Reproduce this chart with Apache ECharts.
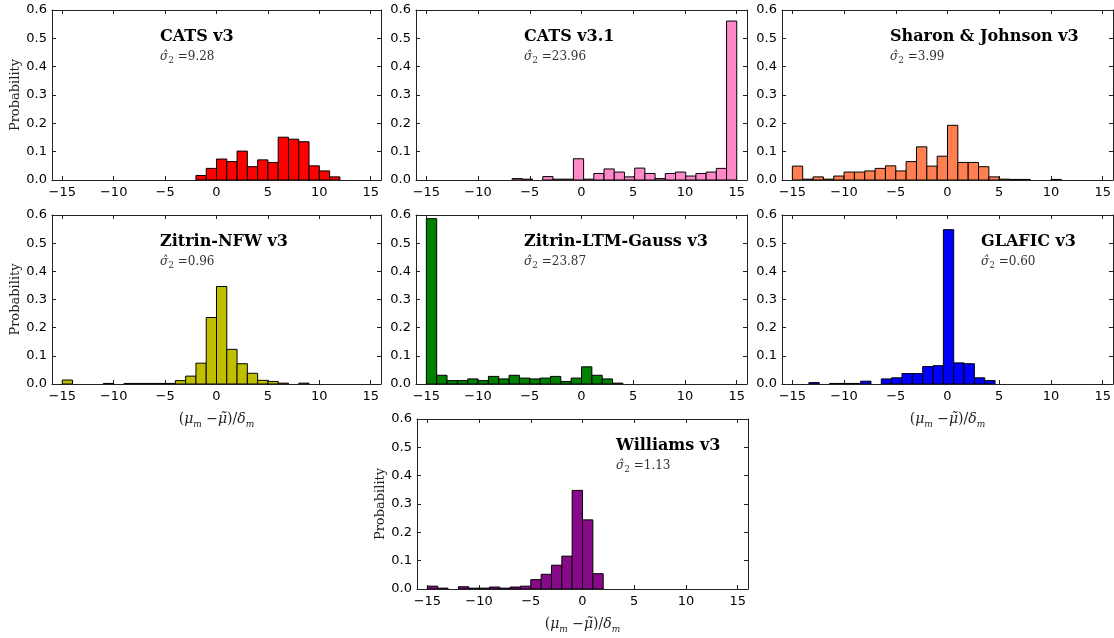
<!DOCTYPE html>
<html>
<head>
<meta charset="utf-8">
<script src="https://cdn.jsdelivr.net/npm/echarts@6/dist/echarts.min.js"></script>
<style>
html,body{margin:0;padding:0;background:#fff;}
#c{width:1114px;height:638px;}
</style>
</head>
<body>
<div id="c"></div>
<script>
// ---- data ----
const models = ['CATS v3', 'CATS v3.1', 'Sharon & Johnson v3', 'Zitrin-NFW v3', 'Zitrin-LTM-Gauss v3', 'GLAFIC v3', 'Williams v3'];
const sigma2 = ['9.28', '23.96', '3.99', '0.96', '23.87', '0.60', '1.13'];
const binStart = [-15, -14.6, -15, -15, -15, -13.4, -15];
const binWidth = [1, 0.987, 1, 1, 1, 1, 1];
const xTicks = [-15, -10, -5, 0, 5, 10, 15];

const catsV3 = [0,0,0,0,0,0,0,0,0,0,0,0,0, 0.016,0.041,0.074,0.065,0.102,0.047,0.071,0.062,0.151,0.144,0.135,0.050,0.032,0.011, 0,0,0];
const catsV31 = [0,0,0,0,0,0,0,0, 0.005,0.003,0,0.012,0.003,0.003,0.075,0.003,0.023,0.039,0.028,0.011,0.042,0.023,0.005,0.023,0.028,0.014,0.023,0.028,0.041,0.561];
const sharonJohnson = [0.049,0.003,0.011,0.003,0.014,0.028,0.028,0.032,0.041,0.050,0.032,0.065,0.117,0.049,0.084,0.193,0.062,0.062,0.047,0.011,0.003,0.002,0.002,0,0,0.002,0,0,0,0];
const zitrinNfw = [0.014,0,0,0,0.002,0,0.002,0.002,0.002,0.002,0.002,0.012,0.028,0.074,0.236,0.346,0.123,0.072,0.038,0.013,0.009,0.003,0,0.003,0,0,0,0,0,0];
const zitrinLtm = [0.587,0.031,0.012,0.012,0.018,0.012,0.027,0.018,0.031,0.021,0.018,0.021,0.027,0.009,0.021,0.061,0.031,0.018,0.003,0,0,0,0,0,0,0,0,0,0,0];
const glafic = [0.005,0,0.002,0.002,0.002,0.010,0,0.018,0.022,0.037,0.037,0.062,0.065,0.548,0.075,0.072,0.022,0.012];
const williams = [0.010,0.003,0,0.008,0.003,0.003,0.007,0.003,0.007,0.010,0.033,0.052,0.084,0.116,0.348,0.244,0.054,0,0,0,0,0,0,0,0,0,0,0,0,0];

const values = [catsV3, catsV31, sharonJohnson, zitrinNfw, zitrinLtm, glafic, williams];

// ---- styling / layout ----
const colors = ['#ff0000', '#ff88c8', '#ff7f50', '#bfbf00', '#008000', '#0000ff', '#880a8a'];
const boxes = [
  {l:52, t:10, w:329, h:170}, {l:416, t:10, w:331, h:170}, {l:782, t:10, w:331, h:170},
  {l:52, t:215, w:329, h:169}, {l:416, t:215, w:331, h:169}, {l:782, t:215, w:331, h:169},
  {l:417, t:419, w:331, h:170}
];
const titleOffset = [108, 108, 108, 108, 108, 199, 199];
const showYName = [true, false, false, true, false, false, true];
const showXName = [false, false, false, true, false, true, true];

const AX = '#222';
const minus = v => String(v).replace('-', '\u2212');

const grid = [], xAxis = [], yAxis = [], series = [], title = [];

boxes.forEach((b, i) => {
  grid.push({left: b.l, top: b.t, width: b.w, height: b.h, containLabel: false});
  xAxis.push({
    type: 'value', gridIndex: i, min: -16, max: 16, position: 'bottom',
    axisLine: {show: true, onZero: false, lineStyle: {color: AX, width: 1}},
    axisTick: {show: true, inside: true, length: 4, customValues: xTicks, lineStyle: {color: AX}},
    axisLabel: {show: true, customValues: xTicks, formatter: minus, color: '#000', fontSize: 13, fontFamily: 'DejaVu Sans', margin: 6},
    splitLine: {show: false},
    name: showXName[i] ? '{p|(}{i|\u03bc}{s|m}{p| \u2212}{i|\u03bc\u0303}{p|)/}{i|\u03b4}{s|m}' : '',
    nameLocation: 'middle', nameGap: 25,
    nameTextStyle: {
      rich: {
        p: {fontFamily: 'DejaVu Serif', fontSize: 14, lineHeight: 20, verticalAlign: 'middle', color: '#222'},
        i: {fontFamily: 'DejaVu Serif', fontStyle: 'italic', fontSize: 14, lineHeight: 20, verticalAlign: 'middle', color: '#222'},
        s: {fontFamily: 'DejaVu Serif', fontStyle: 'italic', fontSize: 9, lineHeight: 9, verticalAlign: 'bottom', color: '#222'}
      }
    }
  });
  xAxis.push({
    type: 'value', gridIndex: i, min: -16, max: 16, position: 'top',
    axisLine: {show: true, onZero: false, lineStyle: {color: AX, width: 1}},
    axisTick: {show: true, inside: true, length: 4, customValues: xTicks, lineStyle: {color: AX}},
    axisLabel: {show: false}, splitLine: {show: false}
  });
  yAxis.push({
    type: 'value', gridIndex: i, min: 0, max: 0.6, interval: 0.1, position: 'left',
    axisLine: {show: true, onZero: false, lineStyle: {color: AX, width: 1}},
    axisTick: {show: true, inside: true, length: 4, lineStyle: {color: AX}},
    axisLabel: {show: true, formatter: v => v.toFixed(1), color: '#000', fontSize: 13, fontFamily: 'DejaVu Sans', margin: 5},
    splitLine: {show: false},
    name: showYName[i] ? 'Probability' : '',
    nameLocation: 'middle', nameGap: 30,
    nameTextStyle: {fontFamily: 'DejaVu Serif', fontSize: 13, color: '#222'}
  });
  yAxis.push({
    type: 'value', gridIndex: i, min: 0, max: 0.6, interval: 0.1, position: 'right',
    axisLine: {show: true, onZero: false, lineStyle: {color: AX, width: 1}},
    axisTick: {show: true, inside: true, length: 4, lineStyle: {color: AX}},
    axisLabel: {show: false}, splitLine: {show: false}
  });

  const data = [];
  values[i].forEach((v, k) => {
    if (v > 0) {
      const x0 = binStart[i] + k * binWidth[i];
      data.push([x0, x0 + binWidth[i], v]);
    }
  });
  const col = colors[i];
  series.push({
    type: 'custom', xAxisIndex: 2 * i, yAxisIndex: 2 * i, clip: true,
    encode: {x: [0, 1], y: 2},
    data: data,
    renderItem: (params, api) => {
      const p0 = api.coord([api.value(0), api.value(2)]);
      const p1 = api.coord([api.value(1), 0]);
      return {
        type: 'rect',
        shape: {x: p0[0], y: p0[1], width: p1[0] - p0[0], height: p1[1] - p0[1]},
        style: {fill: col, stroke: '#000', lineWidth: 1}
      };
    },
    silent: true
  });

  title.push({
    text: models[i], left: b.l + titleOffset[i], top: b.t + 19,
    padding: 0,
    textStyle: {fontFamily: 'DejaVu Serif', fontWeight: 'bold', fontSize: 16, color: '#000'}
  });
  title.push({
    text: '{i|\u03c3\u0302}{s|2}{n| =' + sigma2[i] + '}',
    left: b.l + titleOffset[i], top: b.t + 39,
    padding: 0,
    textStyle: {
      fontWeight: 'normal',
      rich: {
        i: {fontFamily: 'DejaVu Serif', fontStyle: 'italic', fontWeight: 'normal', fontSize: 12, lineHeight: 16, verticalAlign: 'middle', color: '#333'},
        s: {fontFamily: 'DejaVu Serif', fontWeight: 'normal', fontSize: 9, lineHeight: 9, verticalAlign: 'bottom', color: '#333'},
        n: {fontFamily: 'DejaVu Serif', fontWeight: 'normal', fontSize: 12, lineHeight: 16, verticalAlign: 'middle', color: '#333'}
      }
    }
  });
});

const chart = echarts.init(document.getElementById('c'), null, {renderer: 'canvas'});
chart.setOption({
  backgroundColor: '#fff',
  animation: false,
  title, grid, xAxis, yAxis, series
});
</script>
</body>
</html>
